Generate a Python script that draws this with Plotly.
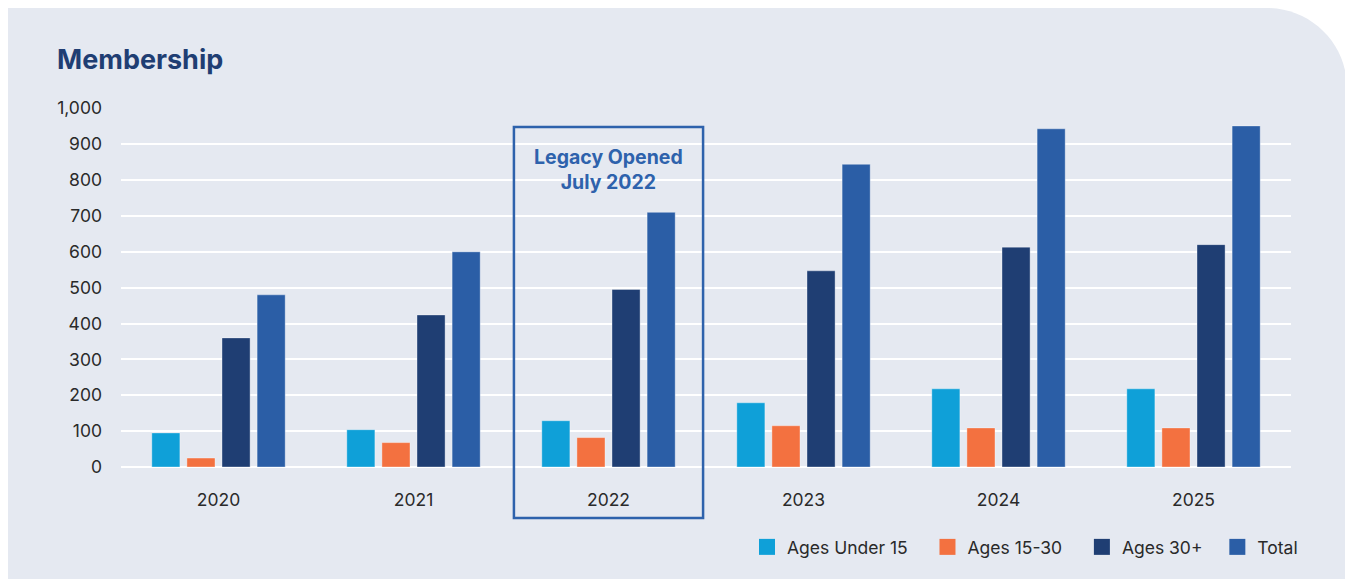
import plotly.graph_objects as go

# data
years = ["2020", "2021", "2022", "2023", "2024", "2025"]
under_15 = [95, 104, 129, 179, 218, 218]
ages_15_30 = [25, 68, 82, 115, 109, 109]
ages_30_plus = [360, 424, 495, 547, 613, 620]
total = [480, 600, 710, 844, 943, 951]

series_names = ["Ages Under 15", "Ages 15-30", "Ages 30+", "Total"]
series_values = [under_15, ages_15_30, ages_30_plus, total]
series_colors = ["#0FA0D8", "#F37140", "#1F3E73", "#2B5EA6"]

# page has an 8px body margin, so figure pixels = screenshot pixels - 8
OFF = 8
W, H = 1345, 571
ML, MR, MT, MB = 113, 62, 100, 112
PW = W - ML - MR
PH = H - MT - MB


# screenshot pixel -> paper helpers (decoration only)
def px(x):
    return (x - OFF - ML) / PW


def py(y):
    return (H - MB - (y - OFF)) / PH


fig = go.Figure()
for name, vals, col in zip(series_names, series_values, series_colors):
    fig.add_trace(go.Bar(
        x=years, y=vals, name=name, legendgroup=name, showlegend=False,
        marker=dict(color=col, line=dict(color="rgba(255,255,255,0.35)", width=1)),
    ))
# legend entries with bigger square swatches (nbsp padding widens the gaps)
pads = [3, 3, 2, 0]
for name, col, p in zip(series_names, series_colors, pads):
    fig.add_trace(go.Scatter(
        x=[years[0]], y=[None], mode="markers", name=name + "\u00a0" * p, legendgroup=name,
        marker=dict(symbol="square", size=16, color=col),
    ))

# background card with rounded top-right corner
l, t, r, b, rad = px(8), py(8), px(1347), py(600), 80
k = 0.552 * rad
bg_path = (
    f"M {l},{b} L {l},{t} L {px(1347 - rad)},{t} "
    f"C {px(1347 - rad + k)},{t} {r},{py(8 + rad - k)} {r},{py(8 + rad)} "
    f"L {r},{b} Z"
)
fig.add_shape(type="path", path=bg_path, xref="paper", yref="paper",
              fillcolor="#E5E9F1", line=dict(width=0), layer="below")

# highlight box around 2022 (category slot 2 of 6)
n = len(years)
i22 = years.index("2022")
fig.add_shape(type="rect", xref="paper", yref="paper",
              x0=(i22 + 0.015) / n, x1=(i22 + 0.985) / n, y0=py(518), y1=py(127),
              line=dict(color="#2E62AC", width=2.5), fillcolor="rgba(0,0,0,0)")
fig.add_annotation(x=(i22 + 0.5) / n, xref="paper", y=py(170), yref="paper",
                   text="<b>Legacy Opened<br>July 2022</b>", showarrow=False,
                   font=dict(size=19.5, color="#2E62AC", family="Inter"),
                   align="center", yanchor="middle")

fig.update_layout(
    width=W, height=H,
    margin=dict(l=ML, r=MR, t=MT, b=MB),
    paper_bgcolor="white",
    plot_bgcolor="rgba(0,0,0,0)",
    font=dict(family="Inter", size=17.5, color="#2A2A2A"),
    title=dict(text="<b>Membership</b>", x=(57 - OFF) / W, xref="container", xanchor="left",
               y=1 - (60 - OFF) / H, yref="container", yanchor="middle",
               font=dict(size=27, color="#1F3E73", family="Inter")),
    barmode="group", bargap=0.28, bargroupgap=0.2,
    xaxis=dict(type="category", showgrid=False, zeroline=False, showline=False, ticks="",
               ticklabelstandoff=20, tickfont=dict(size=17.5)),
    yaxis=dict(range=[0, 1001], dtick=100, tickformat=",", showgrid=True,
               gridcolor="white", gridwidth=2, zeroline=True, zerolinecolor="white",
               zerolinewidth=2, showline=False,
               ticks="", ticklabelstandoff=18, tickfont=dict(size=17.5)),
    legend=dict(orientation="h", x=px(1303), xanchor="right", y=py(547), yanchor="middle",
                bgcolor="rgba(0,0,0,0)", font=dict(size=17.5), traceorder="normal"),
)

fig.write_html("out.html")
